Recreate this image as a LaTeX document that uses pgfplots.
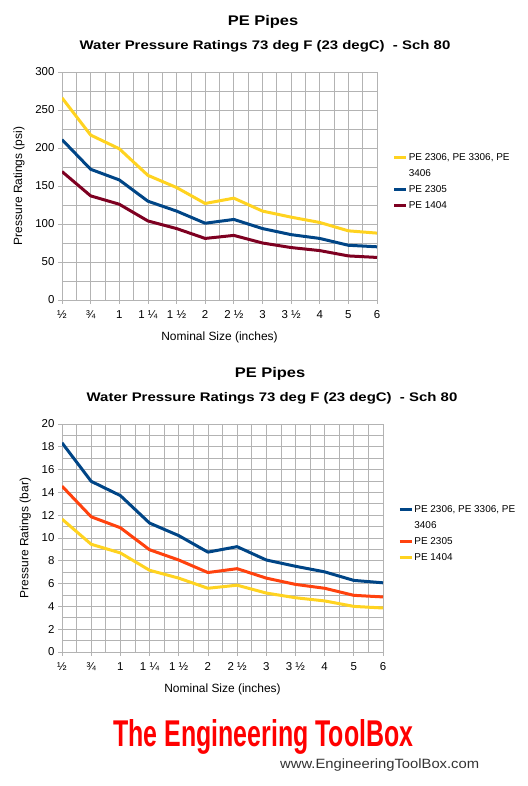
\documentclass[border=0pt]{standalone}
\usepackage{fontspec}
\setmainfont{Liberation Sans}
\usepackage{pgfplots}
\pgfplotsset{compat=1.18}

\definecolor{lblue}{HTML}{004586}
\definecolor{lorange}{HTML}{FF420E}
\definecolor{lyellow}{HTML}{FFD320}
\definecolor{ldred}{HTML}{7E0021}
\definecolor{gridgray}{HTML}{B3B3B3}
\definecolor{logored}{HTML}{FF0000}

\pgfplotsset{
  pechart/.style={
    scale only axis,
    height=228bp,
    xmin=0, xmax=11, xtick={0,...,11},
    xticklabels={½,¾,1,1 ¼,1 ½,2,2 ½,3,3 ½,4,5,6},
    minor x tick num=1, minor y tick num=1,
    grid=both,
    major grid style={gridgray, line width=0.7bp},
    minor grid style={gridgray, line width=0.7bp},
    axis line style={gridgray, line width=0.7bp},
    major tick style={gridgray, line width=0.7bp},
    minor tick length=0pt,
    major tick length=4bp,
    tick align=outside,
    axis x line*=bottom, axis y line*=left,
    tick label style={font=\fontsize{11.5}{13}\selectfont, text=black},
    /pgf/number format/assume math mode=true,
    xticklabel style={yshift=-3bp},
    label style={font=\fontsize{12}{14}\selectfont},
    xlabel={Nominal Size (inches)},
    xlabel shift=6bp,
    ylabel shift=4bp,
    every axis plot/.append style={line width=3bp, line join=round},
    legend cell align=left,
    legend style={draw=none, fill=none, anchor=west,
      font=\fontsize{10}{12}\selectfont,
      nodes={inner sep=1bp},
      row sep=5.5bp},
    legend image code/.code={\draw[#1, line width=3bp] (0bp,0bp) -- (12bp,0bp);},
  }
}

\begin{document}
\begin{tikzpicture}
\useasboundingbox (0bp,0bp) rectangle (528bp,786bp);

% ---------- psi chart ----------
\node[font=\bfseries\fontsize{14}{16}\selectfont, xscale=1.18] at (263bp,764bp) {PE Pipes};
\node[font=\bfseries\fontsize{12.5}{15}\selectfont, xscale=1.2] at (265bp,740bp)
  {Water Pressure Ratings 73 deg F (23 degC)\ \ - Sch 80};

\begin{axis}[pechart, at={(62bp,486bp)}, anchor=south west, width=315bp,
  ymin=0, ymax=300, ytick={0,50,...,300},
  ylabel={Pressure Ratings (psi)},
  legend style={at={(axis description cs:1.04,0.52)}}]
\addplot[lyellow] coordinates {(0,266) (1,217) (2,199) (3,164) (4,148) (5,127)
  (6,134) (7,117) (8,109) (9,102) (10,91) (11,88)};
\addlegendentry{PE 2306, PE 3306, PE}
\addlegendimage{empty legend}
\addlegendentry{3406}
\addplot[lblue] coordinates {(0,211) (1,172) (2,158) (3,130) (4,117) (5,101)
  (6,106) (7,94) (8,86) (9,81) (10,72) (11,70)};
\addlegendentry{PE 2305}
\addplot[ldred] coordinates {(0,169) (1,137) (2,126) (3,104) (4,94) (5,81)
  (6,85) (7,75) (8,69) (9,65) (10,58) (11,56)};
\addlegendentry{PE 1404}
\end{axis}

% ---------- bar chart ----------
\node[font=\bfseries\fontsize{14}{16}\selectfont, xscale=1.18] at (270bp,412bp) {PE Pipes};
\node[font=\bfseries\fontsize{12.5}{15}\selectfont, xscale=1.2] at (272bp,388bp)
  {Water Pressure Ratings 73 deg F (23 degC)\ \ - Sch 80};

\begin{axis}[pechart, at={(62bp,134bp)}, anchor=south west, width=321bp,
  ymin=0, ymax=20, ytick={0,2,...,20},
  ylabel={Pressure Ratings (bar)},
  legend style={at={(axis description cs:1.038,0.52)}}]
\addplot[lblue] coordinates {(0,18.35) (1,14.97) (2,13.72) (3,11.31) (4,10.21) (5,8.76)
  (6,9.24) (7,8.07) (8,7.52) (9,7.03) (10,6.28) (11,6.07)};
\addlegendentry{PE 2306, PE 3306, PE}
\addlegendimage{empty legend}
\addlegendentry{3406}
\addplot[lorange] coordinates {(0,14.55) (1,11.86) (2,10.9) (3,8.97) (4,8.07) (5,6.97)
  (6,7.31) (7,6.48) (8,5.93) (9,5.59) (10,4.97) (11,4.83)};
\addlegendentry{PE 2305}
\addplot[lyellow] coordinates {(0,11.66) (1,9.45) (2,8.69) (3,7.17) (4,6.48) (5,5.59)
  (6,5.86) (7,5.17) (8,4.76) (9,4.48) (10,4.0) (11,3.86)};
\addlegendentry{PE 1404}
\end{axis}

% ---------- footer ----------
\node[anchor=base west, inner sep=0pt, text=logored] at (113bp,39bp)
  {\resizebox{300bp}{27bp}{\bfseries The Engineering ToolBox}};
\node[anchor=base west, inner sep=0pt, text=black!80, xscale=1.1,
  font=\fontsize{13.5}{15}\selectfont]
  at (280bp,18bp) {www.EngineeringToolBox.com};
\end{tikzpicture}
\end{document}
